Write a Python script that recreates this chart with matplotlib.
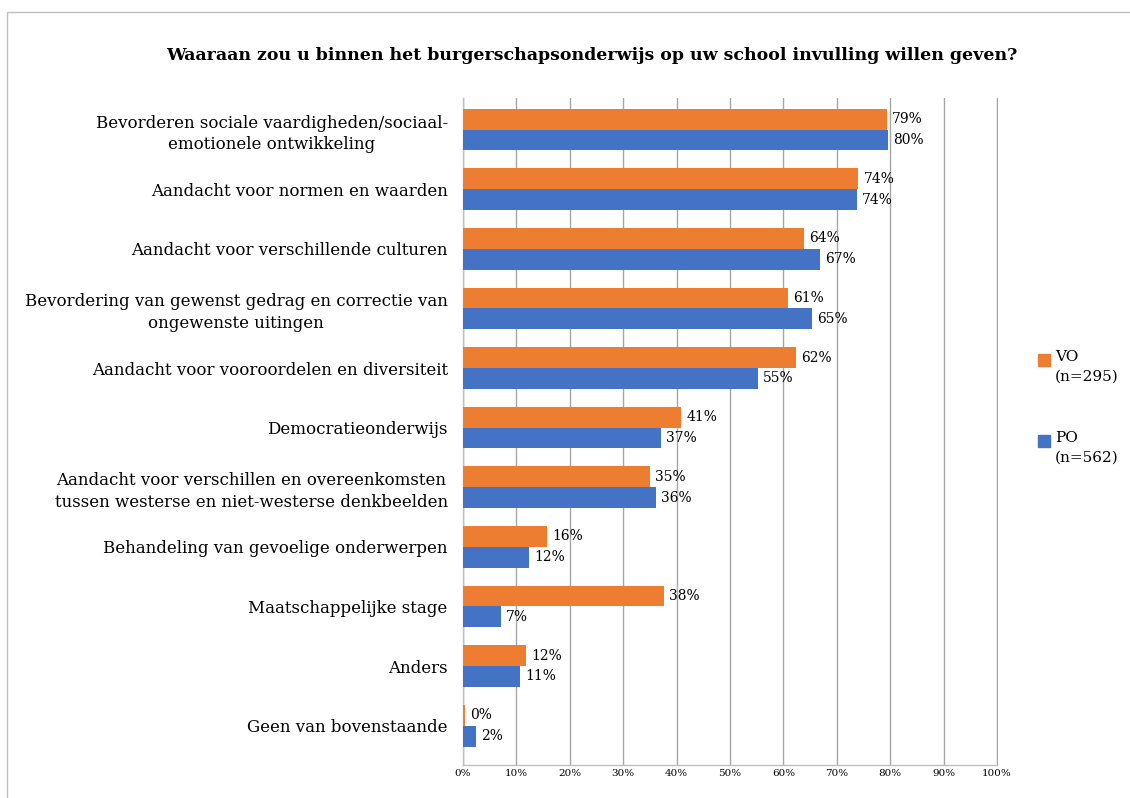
import matplotlib
matplotlib.use("Agg")
import matplotlib.pyplot as plt
from matplotlib.patches import Rectangle

categories = [
    "Bevorderen sociale vaardigheden/sociaal-\nemotionele ontwikkeling",
    "Aandacht voor normen en waarden",
    "Aandacht voor verschillende culturen",
    "Bevordering van gewenst gedrag en correctie van\nongewenste uitingen",
    "Aandacht voor vooroordelen en diversiteit",
    "Democratieonderwijs",
    "Aandacht voor verschillen en overeenkomsten\ntussen westerse en niet-westerse denkbeelden",
    "Behandeling van gevoelige onderwerpen",
    "Maatschappelijke stage",
    "Anders",
    "Geen van bovenstaande",
]
vo = [79.4, 74.0, 63.9, 60.9, 62.4, 40.8, 35.0, 15.7, 37.6, 11.8, 0.4]
po = [79.5, 73.7, 66.9, 65.4, 55.2, 37.1, 36.1, 12.4, 7.1, 10.7, 2.4]
vo_labels = ["79%", "74%", "64%", "61%", "62%", "41%", "35%", "16%", "38%", "12%", "0%"]
po_labels = ["80%", "74%", "67%", "65%", "55%", "37%", "36%", "12%", "7%", "11%", "2%"]
legend_labels = ["VO\n(n=295)", "PO\n(n=562)"]
ticks = list(range(0, 101, 10))

ORANGE = "#ED7D31"
BLUE = "#4472C4"
FONT = ["DejaVu Serif"]
plt.rcParams["font.family"] = FONT

W, H = 1130, 798
fig = plt.figure(figsize=(W / 100, H / 100), dpi=100)
ax = fig.add_axes([463 / W, 1 - 765 / H, (997 - 463) / W, (765 - 98) / H])

n = len(categories)
ys = list(range(n))
h = 0.35
ax.barh([y - h / 2 for y in ys], vo, height=h, color=ORANGE, zorder=3)
ax.barh([y + h / 2 for y in ys], po, height=h, color=BLUE, zorder=3)

for y, v, lab in zip(ys, vo, vo_labels):
    ax.text(v + 1.0, y - h / 2, lab, va="center", ha="left", fontsize=10, zorder=4)
for y, v, lab in zip(ys, po, po_labels):
    ax.text(v + 1.0, y + h / 2, lab, va="center", ha="left", fontsize=10, zorder=4)

ax.set_xlim(0, 100)
ax.set_ylim(10.66, -0.53)
ax.set_xticks(ticks)
ax.set_xticklabels([f"{t}%" for t in ticks], fontsize=7.5)
ax.set_yticks(ys)
ax.set_yticklabels(categories, fontsize=12, linespacing=1.35)
ax.tick_params(axis="y", length=0, pad=11)
ax.tick_params(axis="x", length=0, pad=3)
ax.grid(axis="x", color="#A6A6A6", linewidth=1, zorder=0)
ax.spines["top"].set_visible(False)
ax.spines["right"].set_color("#A6A6A6")
for s in ["left", "bottom"]:
    ax.spines[s].set_color("#BFBFBF")
    ax.spines[s].set_linewidth(1)
for lbl in ax.get_yticklabels():
    lbl.set_multialignment("center")

fig.text(592 / W, 1 - 56 / H,
         "Waaraan zou u binnen het burgerschapsonderwijs op uw school invulling willen geven?",
         ha="center", va="center", fontsize=12.5, fontweight="bold")

# legend
for (yy, col, lab) in [(360, ORANGE, legend_labels[0]), (441, BLUE, legend_labels[1])]:
    fig.patches.append(Rectangle((1038 / W, 1 - (yy + 6) / H), 12 / W, 12 / H,
                                 transform=fig.transFigure, color=col))
    fig.text(1055 / W, 1 - (yy - 10) / H, lab, ha="left", va="top", fontsize=11,
             linespacing=1.5)

# outer frame
fig.patches.append(Rectangle((7 / W, -0.1), 1.2, 1 - 12 / H + 0.1,
                             transform=fig.transFigure, fill=False,
                             edgecolor="#BFBFBF", linewidth=1))

fig.savefig("out.png", dpi=100)
